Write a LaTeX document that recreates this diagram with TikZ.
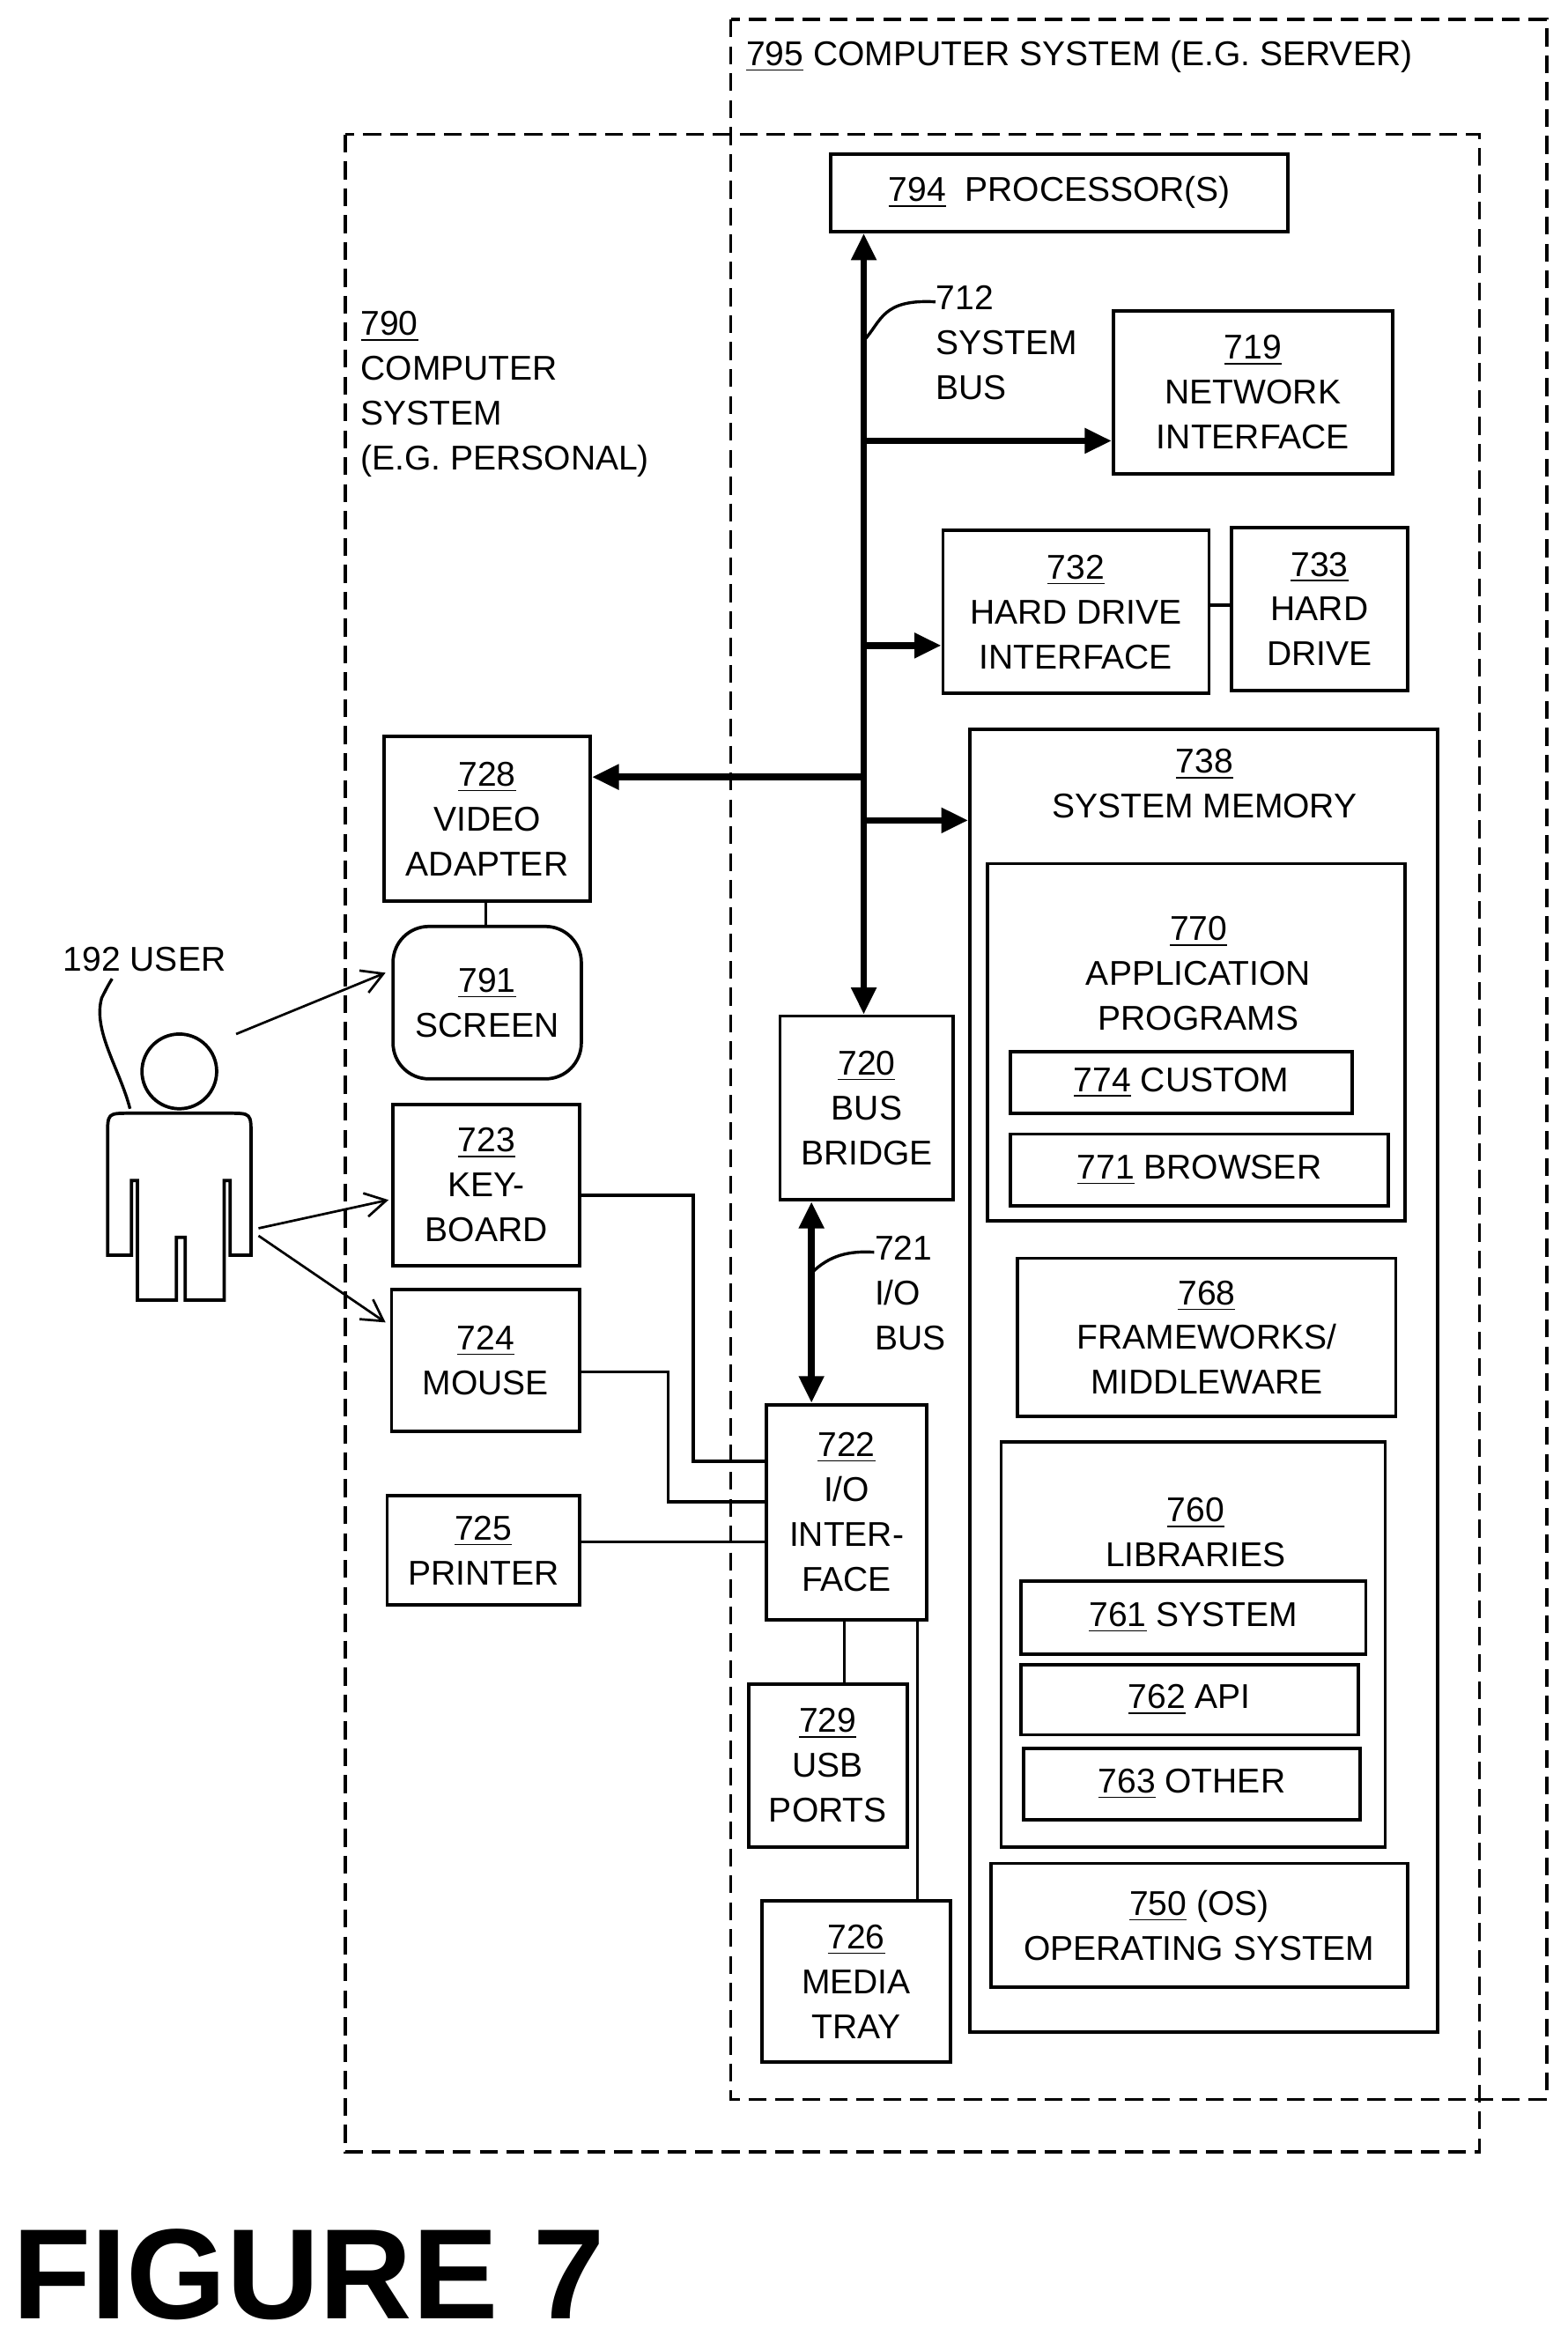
\documentclass[tikz,border=0pt]{standalone}
\usepackage{fontspec}
\setmainfont{Liberation Sans}
\usetikzlibrary{fit,arrows.meta}
\begin{document}
\begin{tikzpicture}[x=0.5pt,y=-0.5pt,
  box/.style={draw,line width=1.1pt,inner sep=0pt,align=center,font=\fontsize{11.5}{15}\selectfont},
  txt/.style={align=center,inner sep=0pt,font=\fontsize{11.5}{15}\selectfont},
  sysbox/.style={draw,line width=1pt,dash pattern=on 6pt off 3pt},
  bus/.style={line width=2.2pt,{Triangle[length=9pt,width=8pt]}-{Triangle[length=9pt,width=8pt]}},
  busarr/.style={line width=2.2pt,-{Triangle[length=9pt,width=8pt]}},
  thin/.style={line width=1pt},
  thinarr/.style={line width=0.8pt,-{Straight Barb[length=7pt,width=8pt]}}]
\useasboundingbox (0,0) rectangle (1049,1568);
\newcommand{\bx}[6]{\node[box,fit={(#2,#3)(#4,#5)}] (#1) {}; \node[txt] (#1t) at (#1.center) {#6};}
\newcommand{\un}[1]{\underline{#1}}
% dashed systems
\coordinate (s1) at (489,13); \coordinate (s2) at (1035,1405);
\draw[sysbox] (s1) rectangle (s2);
\coordinate (p1) at (231,90); \coordinate (p2) at (990,1440);
\draw[sysbox] (p1) rectangle (p2);
\node[txt,anchor=west] (l795) at (499,38) {\un{795} COMPUTER SYSTEM (E.G. SERVER)};
\node[txt,anchor=north west,align=left] (l790) at (241,208) {\un{790}\\COMPUTER\\SYSTEM\\(E.G. PERSONAL)};
% boxes
\bx{b794}{556}{103}{862}{155}{\un{794}\ \ PROCESSOR(S)}
\bx{b719}{745}{208}{932}{317}{\un{719}\\NETWORK\\INTERFACE}
\bx{b732}{631}{355}{809}{464}{\un{732}\\HARD DRIVE\\INTERFACE}
\bx{b733}{824}{353}{942}{462}{\un{733}\\HARD\\DRIVE}
\node[box,fit={(649,488)(962,1360)}] (b738) {};
\node[txt,anchor=north] (b738t) at (806,501) {\un{738}\\SYSTEM MEMORY};
\bx{b728}{257}{493}{395}{603}{\un{728}\\VIDEO\\ADAPTER}
\node[box,rounded corners=12pt,fit={(263,620)(389,722)}] (b791) {};
\node[txt] at (b791.center) {\un{791}\\SCREEN};
\node[box,fit={(661,578)(940,817)}] (b770) {};
\node[txt,anchor=north] (b770t) at (802,613) {\un{770}\\APPLICATION\\PROGRAMS};
\bx{b774}{676}{704}{905}{745}{\un{774} CUSTOM}
\bx{b771}{676}{759}{929}{807}{\un{771} BROWSER}
\bx{b768}{681}{842}{934}{948}{\un{768}\\FRAMEWORKS/\\MIDDLEWARE}
\node[box,fit={(670,965)(927,1236)}] (b760) {};
\node[txt,anchor=north] (b760t) at (800,1002) {\un{760}\\LIBRARIES};
\bx{b761}{683}{1058}{914}{1107}{\un{761} SYSTEM}
\bx{b762}{683}{1114}{909}{1161}{\un{762} API}
\bx{b763}{685}{1170}{910}{1218}{\un{763} OTHER}
\bx{b750}{663}{1247}{942}{1330}{\un{750} (OS)\\OPERATING SYSTEM}
\bx{b720}{522}{680}{638}{803}{\un{720}\\BUS\\BRIDGE}
\bx{b722}{513}{940}{620}{1084}{\un{722}\\I/O\\INTER-\\FACE}
\bx{b723}{263}{739}{388}{847}{\un{723}\\KEY-\\BOARD}
\bx{b724}{262}{863}{388}{958}{\un{724}\\MOUSE}
\bx{b725}{259}{1001}{388}{1074}{\un{725}\\PRINTER}
\bx{b729}{501}{1127}{607}{1236}{\un{729}\\USB\\PORTS}
\bx{b726}{510}{1272}{636}{1380}{\un{726}\\MEDIA\\TRAY}
% system bus
\draw[bus] (b794.south -| 578,0) -- (b720.north -| 578,0);
\draw[busarr] (578,295) -- (b719.west |- 0,295);
\draw[busarr] (578,432) -- (b732.west |- 0,432);
\draw[busarr] (578,549) -- (b738.west |- 0,549);
\draw[busarr] (578,520) -- (b728.east |- 0,520);
\draw[thin] (b732.east |- 0,405) -- (b733.west |- 0,405);
\draw[thin] (b728.south -| 325,0) -- (b791.north -| 325,0);
\node[txt,anchor=north west,align=left] (l712) at (626,191) {712\\SYSTEM\\BUS};
\draw[thin] (578,228) .. controls (590,215) and (590,200) .. (l712.north west|-0,202) ;
% I/O bus
\draw[bus] (b720.south -| 543,0) -- (b722.north -| 543,0);
\node[txt,anchor=north west,align=left] (l721) at (585,827) {721\\I/O\\BUS};
\draw[thin] (543,852) .. controls (555,840) and (568,837) .. (585,838);
% peripherals
\draw[thin] (b723.east |- 0,800) -- (464,800) -- (464,978) -- (b722.west |- 0,978);
\draw[thin] (b724.east |- 0,918) -- (447,918) -- (447,1005) -- (b722.west |- 0,1005);
\draw[thin] (b725.east |- 0,1032) -- (b722.west |- 0,1032);
\draw[thin] (b722.south -| 565,0) -- (b729.north -| 565,0);
\draw[thin] (b722.south -| 614,0) -- (b726.north -| 614,0);
% user
\node[draw,circle,line width=1.1pt,minimum size=25pt,inner sep=0] (head) at (120,717) {};
\draw[line width=1.1pt] (92,870) -- (92,790) -- (88,790) -- (88,840) -- (72,840) -- (72,760) .. controls (72,745) .. (87,745) -- (153,745) .. controls (168,745) .. (168,760) -- (168,840) -- (154,840) -- (154,790) -- (150,790) -- (150,870) -- (124,870) -- (124,828) -- (118,828) -- (118,870) -- cycle;
\node[txt,anchor=west] (l192) at (42,642) {192 USER};
\draw[thin] (87,742) .. controls (80,715) and (62,690) .. (68,668) .. controls (72,660) .. (75,655);
\coordinate (u1) at (158,692); \coordinate (u2) at (173,822); \coordinate (u3) at (173,827);
\draw[thinarr] (u1) -- (258,651);
\draw[thinarr] (u2) -- (260,803);
\draw[thinarr] (u3) -- (258,885);
\node[anchor=west,inner sep=0,font=\fontsize{43}{43}\selectfont\bfseries] (fig) at (8,1522) {FIGURE 7};
\end{tikzpicture}
\end{document}
